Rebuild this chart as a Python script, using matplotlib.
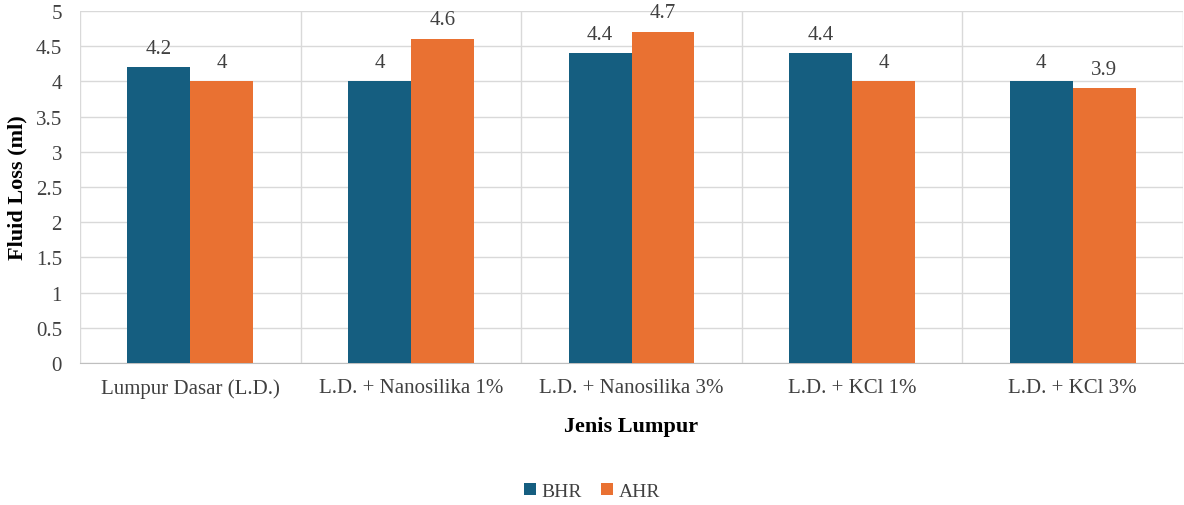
import numpy as np
import matplotlib.pyplot as plt
from matplotlib.ticker import FixedLocator

categories = ["Lumpur Dasar (L.D.)", "L.D. + Nanosilika 1%", "L.D. + Nanosilika 3%",
              "L.D. + KCl 1%", "L.D. + KCl 3%"]
bhr = [4.2, 4.0, 4.4, 4.4, 4.0]
ahr = [4.0, 4.6, 4.7, 4.0, 3.9]
yticks = [0, 0.5, 1, 1.5, 2, 2.5, 3, 3.5, 4, 4.5, 5]

plt.rcParams['font.family'] = ['Liberation Serif', 'DejaVu Serif']

fig = plt.figure(figsize=(11.84, 5.06), dpi=100)
ax = fig.add_axes([0.0676, 0.2806, 0.9316, 0.6957])

x = np.arange(len(categories))
width = 0.285
b1 = ax.bar(x - width / 2, bhr, width, color="#155e80", label="BHR", zorder=3)
b2 = ax.bar(x + width / 2, ahr, width, color="#e97132", label="AHR", zorder=3)

for bars, vals in ((b1, bhr), (b2, ahr)):
    for rect, v in zip(bars, vals):
        ax.annotate(f"{v:g}", (rect.get_x() + rect.get_width() / 2, v),
                    xytext=(0, 7), textcoords="offset points",
                    ha="center", va="bottom", fontsize=15, color="#404040")

ax.set_xlim(-0.5, len(categories) - 0.5)
ax.set_ylim(0, 5)
ax.set_yticks(yticks)
ax.set_yticklabels([f"{t:g}" for t in yticks])
ax.set_xticks(x)
ax.set_xticklabels(categories)
ax.xaxis.set_minor_locator(FixedLocator(np.arange(-0.5, len(categories), 1)))

ax.grid(axis="y", which="major", color="#d9d9d9", linewidth=1, zorder=0)
ax.grid(axis="x", which="minor", color="#d9d9d9", linewidth=1, zorder=0)
ax.tick_params(axis="both", which="both", length=0, labelsize=15, colors="#404040")
ax.tick_params(axis="x", pad=11)
ax.tick_params(axis="y", pad=13)
for side in ("top", "right", "left"):
    ax.spines[side].set_visible(False)
ax.spines["bottom"].set_color("#bfbfbf")

ax.set_ylabel("Fluid Loss (ml)", fontsize=16, fontweight="bold", color="#000000", labelpad=6)
ax.set_xlabel("Jenis Lumpur", fontsize=16, fontweight="bold", color="#000000", labelpad=13)

fig.legend(handles=[b1, b2], loc="center", bbox_to_anchor=(0.5, 0.027), ncol=2,
           frameon=False, fontsize=14, handlelength=0.6, handleheight=0.6,
           handletextpad=0.3, columnspacing=1.0, labelcolor="#404040")

fig.savefig("out.png", dpi=100)
